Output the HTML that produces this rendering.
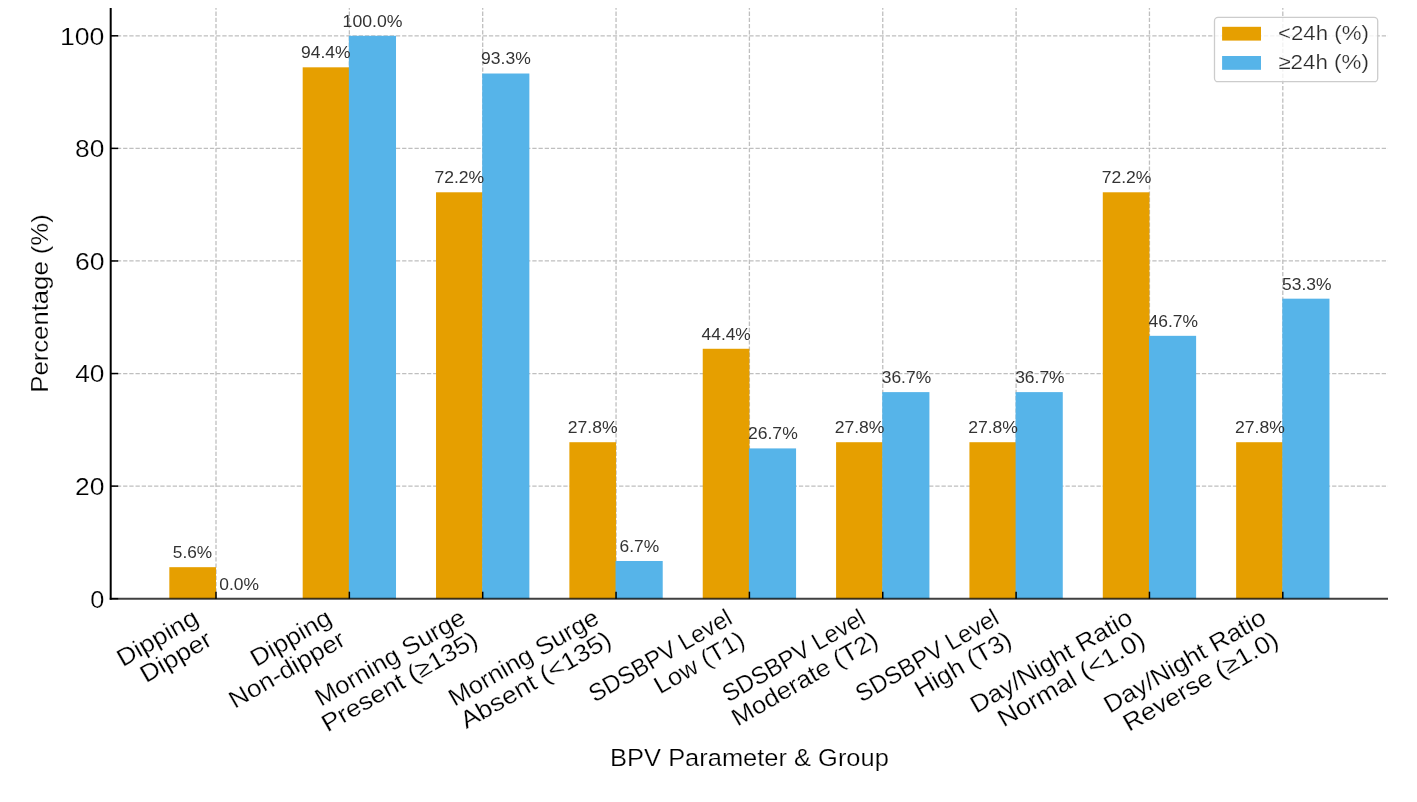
<!DOCTYPE html>
<html><head><meta charset="utf-8"><style>
html,body{margin:0;padding:0;background:#fff;width:1417px;height:802px;overflow:hidden}
svg{display:block;will-change:transform}
text{font-family:"Liberation Sans",sans-serif;white-space:pre}
text.b{stroke:#fff;stroke-width:0.22px}
</style></head><body>
<svg width="1417" height="802" viewBox="0 0 1417 802">
<rect x="0" y="0" width="1417" height="802" fill="#ffffff"/>
<g stroke="#bfbfbf" stroke-width="1.3" stroke-dasharray="4.3 1.9" fill="none"><line x1="110.7" y1="486.12" x2="1388.0" y2="486.12"/><line x1="110.7" y1="373.54" x2="1388.0" y2="373.54"/><line x1="110.7" y1="260.96" x2="1388.0" y2="260.96"/><line x1="110.7" y1="148.38" x2="1388.0" y2="148.38"/><line x1="110.7" y1="35.80" x2="1388.0" y2="35.80"/><line x1="216.00" y1="598.7" x2="216.00" y2="8.0"/><line x1="349.35" y1="598.7" x2="349.35" y2="8.0"/><line x1="482.70" y1="598.7" x2="482.70" y2="8.0"/><line x1="616.05" y1="598.7" x2="616.05" y2="8.0"/><line x1="749.40" y1="598.7" x2="749.40" y2="8.0"/><line x1="882.75" y1="598.7" x2="882.75" y2="8.0"/><line x1="1016.10" y1="598.7" x2="1016.10" y2="8.0"/><line x1="1149.45" y1="598.7" x2="1149.45" y2="8.0"/><line x1="1282.80" y1="598.7" x2="1282.80" y2="8.0"/></g>
<rect x="169.33" y="567.18" width="46.67" height="31.52" fill="#E69F00"/>
<rect x="302.68" y="67.32" width="46.67" height="531.38" fill="#E69F00"/>
<rect x="348.85" y="35.80" width="47.17" height="562.90" fill="#56B4E9"/>
<rect x="436.03" y="192.29" width="46.67" height="406.41" fill="#E69F00"/>
<rect x="482.20" y="73.51" width="47.17" height="525.19" fill="#56B4E9"/>
<rect x="569.38" y="442.21" width="46.67" height="156.49" fill="#E69F00"/>
<rect x="615.55" y="560.99" width="47.17" height="37.71" fill="#56B4E9"/>
<rect x="702.73" y="348.77" width="46.67" height="249.93" fill="#E69F00"/>
<rect x="748.90" y="448.41" width="47.17" height="150.29" fill="#56B4E9"/>
<rect x="836.08" y="442.21" width="46.67" height="156.49" fill="#E69F00"/>
<rect x="882.25" y="392.12" width="47.17" height="206.58" fill="#56B4E9"/>
<rect x="969.43" y="442.21" width="46.67" height="156.49" fill="#E69F00"/>
<rect x="1015.60" y="392.12" width="47.17" height="206.58" fill="#56B4E9"/>
<rect x="1102.78" y="192.29" width="46.67" height="406.41" fill="#E69F00"/>
<rect x="1148.95" y="335.83" width="47.17" height="262.87" fill="#56B4E9"/>
<rect x="1236.13" y="442.21" width="46.67" height="156.49" fill="#E69F00"/>
<rect x="1282.30" y="298.67" width="47.17" height="300.03" fill="#56B4E9"/>
<g stroke="#000" stroke-width="1.5"><line x1="110.7" y1="598.70" x2="118.2" y2="598.70"/><line x1="110.7" y1="486.12" x2="118.2" y2="486.12"/><line x1="110.7" y1="373.54" x2="118.2" y2="373.54"/><line x1="110.7" y1="260.96" x2="118.2" y2="260.96"/><line x1="110.7" y1="148.38" x2="118.2" y2="148.38"/><line x1="110.7" y1="35.80" x2="118.2" y2="35.80"/><line x1="216.00" y1="598.7" x2="216.00" y2="591.7"/><line x1="349.35" y1="598.7" x2="349.35" y2="591.7"/><line x1="482.70" y1="598.7" x2="482.70" y2="591.7"/><line x1="616.05" y1="598.7" x2="616.05" y2="591.7"/><line x1="749.40" y1="598.7" x2="749.40" y2="591.7"/><line x1="882.75" y1="598.7" x2="882.75" y2="591.7"/><line x1="1016.10" y1="598.7" x2="1016.10" y2="591.7"/><line x1="1149.45" y1="598.7" x2="1149.45" y2="591.7"/><line x1="1282.80" y1="598.7" x2="1282.80" y2="591.7"/></g>
<line x1="110.7" y1="8.0" x2="110.7" y2="599.7" stroke="#000" stroke-width="2"/>
<line x1="109.7" y1="598.7" x2="1388.0" y2="598.7" stroke="#000" stroke-opacity="0.75" stroke-width="2"/>
<rect x="1214.5" y="17.4" width="163.2" height="64.3" rx="3.5" ry="3.5" fill="#ffffff" fill-opacity="0.8" stroke="#cccccc" stroke-width="1.3"/>
<rect x="1222.1" y="26.8" width="38.9" height="13.8" fill="#E69F00"/>
<rect x="1222.1" y="56.0" width="38.9" height="13.8" fill="#56B4E9"/>
<text class="b" x="122.78" y="667.23" font-size="24.35" fill="#000000" textLength="89.33" lengthAdjust="spacingAndGlyphs" transform="rotate(-30.0 122.65 667.23)">Dipping</text>
<text class="b" x="146.03" y="683.26" font-size="24.35" fill="#000000" textLength="78.08" lengthAdjust="spacingAndGlyphs" transform="rotate(-30.0 145.92 683.26)">Dipper</text>
<text class="b" x="256.22" y="667.23" font-size="24.35" fill="#000000" textLength="89.33" lengthAdjust="spacingAndGlyphs" transform="rotate(-30.0 256.09 667.23)">Dipping</text>
<text class="b" x="234.89" y="709.01" font-size="24.35" fill="#000000" textLength="129.55" lengthAdjust="spacingAndGlyphs" transform="rotate(-30.0 234.75 709.01)">Non-dipper</text>
<text class="b" x="321.07" y="706.85" font-size="24.35" fill="#000000" textLength="168.85" lengthAdjust="spacingAndGlyphs" transform="rotate(-30.0 320.90 706.85)">Morning Surge</text>
<text class="b" x="327.48" y="732.58" font-size="24.35" fill="#000000" textLength="175.92" lengthAdjust="spacingAndGlyphs" transform="rotate(-30.0 327.38 732.58)">Present (≥135)</text>
<text class="b" x="454.51" y="706.85" font-size="24.35" fill="#000000" textLength="168.85" lengthAdjust="spacingAndGlyphs" transform="rotate(-30.0 454.34 706.85)">Morning Surge</text>
<text class="b" x="466.36" y="729.45" font-size="24.35" fill="#000000" textLength="169.66" lengthAdjust="spacingAndGlyphs" transform="rotate(-30.0 466.23 729.45)">Absent (&lt;135)</text>
<text class="b" x="594.83" y="703.04" font-size="24.35" fill="#000000" textLength="160.46" lengthAdjust="spacingAndGlyphs" transform="rotate(-30.0 594.38 703.04)">SDSBPV Level</text>
<text class="b" x="660.17" y="694.64" font-size="24.35" fill="#000000" textLength="99.86" lengthAdjust="spacingAndGlyphs" transform="rotate(-30.0 659.96 694.64)">Low (T1)</text>
<text class="b" x="728.27" y="703.04" font-size="24.35" fill="#000000" textLength="160.46" lengthAdjust="spacingAndGlyphs" transform="rotate(-30.0 727.81 703.04)">SDSBPV Level</text>
<text class="b" x="737.59" y="726.95" font-size="24.35" fill="#000000" textLength="164.58" lengthAdjust="spacingAndGlyphs" transform="rotate(-30.0 737.44 726.95)">Moderate (T2)</text>
<text class="b" x="861.70" y="703.04" font-size="24.35" fill="#000000" textLength="160.46" lengthAdjust="spacingAndGlyphs" transform="rotate(-30.0 861.25 703.04)">SDSBPV Level</text>
<text class="b" x="920.41" y="698.45" font-size="24.35" fill="#000000" textLength="107.55" lengthAdjust="spacingAndGlyphs" transform="rotate(-30.0 920.24 698.45)">High (T3)</text>
<text class="b" x="976.33" y="713.73" font-size="24.35" fill="#000000" textLength="182.55" lengthAdjust="spacingAndGlyphs" transform="rotate(-30.0 976.18 713.73)">Day/Night Ratio</text>
<text class="b" x="1003.41" y="727.51" font-size="24.35" fill="#000000" textLength="165.85" lengthAdjust="spacingAndGlyphs" transform="rotate(-30.0 1003.34 727.51)">Normal (&lt;1.0)</text>
<text class="b" x="1109.77" y="713.73" font-size="24.35" fill="#000000" textLength="182.55" lengthAdjust="spacingAndGlyphs" transform="rotate(-30.0 1109.62 713.73)">Day/Night Ratio</text>
<text class="b" x="1129.10" y="732.01" font-size="24.35" fill="#000000" textLength="174.77" lengthAdjust="spacingAndGlyphs" transform="rotate(-30.0 1128.98 732.01)">Reverse (≥1.0)</text>
<text class="b" x="610.14" y="765.66" font-size="24.45" fill="#000000" textLength="278.71" lengthAdjust="spacingAndGlyphs">BPV Parameter &amp; Group</text>
<text class="b" x="90.32" y="607.70" font-size="24.41" fill="#000000" textLength="14.09" lengthAdjust="spacingAndGlyphs">0</text>
<text class="b" x="75.03" y="495.08" font-size="24.41" fill="#000000" textLength="29.43" lengthAdjust="spacingAndGlyphs">20</text>
<text class="b" x="75.18" y="382.46" font-size="24.41" fill="#000000" textLength="29.28" lengthAdjust="spacingAndGlyphs">40</text>
<text class="b" x="74.93" y="269.84" font-size="24.41" fill="#000000" textLength="29.53" lengthAdjust="spacingAndGlyphs">60</text>
<text class="b" x="75.09" y="157.21" font-size="24.41" fill="#000000" textLength="29.37" lengthAdjust="spacingAndGlyphs">80</text>
<text class="b" x="59.95" y="44.59" font-size="24.41" fill="#000000" textLength="44.52" lengthAdjust="spacingAndGlyphs">100</text>
<text class="b" x="48.56" y="392.91" font-size="24.45" fill="#000000" textLength="178.52" lengthAdjust="spacingAndGlyphs" transform="rotate(-90.0 48.37 392.91)">Percentage (%)</text>
<text x="172.87" y="558.17" font-size="17.38" fill="#333333" textLength="39.34" lengthAdjust="spacingAndGlyphs">5.6%</text>
<text x="301.04" y="58.13" font-size="17.38" fill="#333333" textLength="49.52" lengthAdjust="spacingAndGlyphs">94.4%</text>
<text x="434.46" y="183.14" font-size="17.38" fill="#333333" textLength="49.79" lengthAdjust="spacingAndGlyphs">72.2%</text>
<text x="567.84" y="433.16" font-size="17.38" fill="#333333" textLength="49.79" lengthAdjust="spacingAndGlyphs">27.8%</text>
<text x="701.61" y="339.68" font-size="17.38" fill="#333333" textLength="49.20" lengthAdjust="spacingAndGlyphs">44.4%</text>
<text x="834.71" y="433.16" font-size="17.38" fill="#333333" textLength="49.79" lengthAdjust="spacingAndGlyphs">27.8%</text>
<text x="968.15" y="433.16" font-size="17.38" fill="#333333" textLength="49.79" lengthAdjust="spacingAndGlyphs">27.8%</text>
<text x="1101.65" y="183.14" font-size="17.38" fill="#333333" textLength="49.79" lengthAdjust="spacingAndGlyphs">72.2%</text>
<text x="1235.03" y="433.16" font-size="17.38" fill="#333333" textLength="49.79" lengthAdjust="spacingAndGlyphs">27.8%</text>
<text x="219.28" y="589.70" font-size="17.38" fill="#333333" textLength="39.75" lengthAdjust="spacingAndGlyphs">0.0%</text>
<text x="342.64" y="26.59" font-size="17.38" fill="#333333" textLength="59.98" lengthAdjust="spacingAndGlyphs">100.0%</text>
<text x="481.06" y="64.32" font-size="17.38" fill="#333333" textLength="49.77" lengthAdjust="spacingAndGlyphs">93.3%</text>
<text x="619.58" y="551.97" font-size="17.38" fill="#333333" textLength="39.65" lengthAdjust="spacingAndGlyphs">6.7%</text>
<text x="747.98" y="439.35" font-size="17.38" fill="#333333" textLength="49.79" lengthAdjust="spacingAndGlyphs">26.7%</text>
<text x="881.74" y="383.04" font-size="17.38" fill="#333333" textLength="49.39" lengthAdjust="spacingAndGlyphs">36.7%</text>
<text x="1015.18" y="383.04" font-size="17.38" fill="#333333" textLength="49.39" lengthAdjust="spacingAndGlyphs">36.7%</text>
<text x="1148.50" y="326.73" font-size="17.38" fill="#333333" textLength="49.44" lengthAdjust="spacingAndGlyphs">46.7%</text>
<text x="1282.04" y="289.56" font-size="17.38" fill="#333333" textLength="49.41" lengthAdjust="spacingAndGlyphs">53.3%</text>
<text class="b" x="1277.95" y="40.37" font-size="20.17" fill="#2a2a2a" textLength="90.90" lengthAdjust="spacingAndGlyphs">&lt;24h (%)</text>
<text class="b" x="1278.34" y="69.02" font-size="20.17" fill="#2a2a2a" textLength="90.52" lengthAdjust="spacingAndGlyphs">≥24h (%)</text>
</svg>
</body></html>
